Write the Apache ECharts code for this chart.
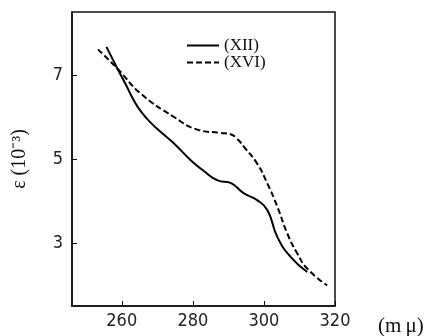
<!DOCTYPE html>
<html><head><meta charset="utf-8">
<script src="https://cdn.jsdelivr.net/npm/echarts@6/dist/echarts.min.js"></script>
<style>html,body{margin:0;padding:0;background:#fff}#c{width:437px;height:336px}</style>
</head><body><div id="c"></div>
<script>
var seriesNames = ['(XII)', '(XVI)'];
var xiiX = [255.7, 258.8, 261.1, 263.5, 265.6, 268.2, 271.0, 274.7, 279.4, 283.0, 287.0, 290.6, 294.4, 298.1, 301.0, 303.8, 307.5, 312.2];
var xiiY = [7.67, 7.15, 6.78, 6.38, 6.11, 5.86, 5.64, 5.37, 4.97, 4.72, 4.49, 4.43, 4.18, 4.02, 3.78, 3.14, 2.67, 2.31];
var xviX = [253.3, 258.8, 265.3, 274.7, 281.3, 287.8, 290.6, 292.5, 294.4, 298.1, 301.0, 303.8, 306.6, 309.4, 312.2, 317.8];
var xviY = [7.61, 7.15, 6.56, 6.00, 5.70, 5.62, 5.59, 5.48, 5.29, 4.89, 4.41, 3.86, 3.22, 2.75, 2.39, 1.99];
var xTicks = [260, 280, 300, 320];
var yTicks = [3, 5, 7];

function pairs(xs, ys){ return xs.map(function(x,i){ return [x, ys[i]]; }); }

var chart = echarts.init(document.getElementById('c'), null, {renderer:'canvas'});
var tickFont = {color:'#222', fontFamily:'DejaVu Sans Condensed, Liberation Sans Narrow, Liberation Sans', fontSize:18};
chart.setOption({
  animation:false,
  grid:{left:72, top:12, right:102, bottom:30, show:true, borderColor:'#111', borderWidth:1.5},
  legend:{
    orient:'vertical', left:181, top:32, itemGap:0, itemWidth:32, itemHeight:10,
    textStyle:{fontFamily:'Liberation Serif, serif', fontSize:17, color:'#111'},
    itemStyle:{opacity:0},
    data:seriesNames
  },
  xAxis:{
    type:'value', min:246, max:320,
    axisLine:{show:true, lineStyle:{color:'#111', width:1.5}},
    axisTick:{show:true, inside:true, length:5, customValues:xTicks, lineStyle:{color:'#111'}},
    axisLabel:{show:true, customValues:xTicks, margin:6, ...tickFont},
    splitLine:{show:false}
  },
  yAxis:{
    type:'value', min:1.5, max:8.5,
    name:'ε (10⁻³)', nameLocation:'middle', nameRotate:90, nameGap:42,
    nameTextStyle:{fontFamily:'Liberation Serif, serif', fontSize:20, color:'#111'},
    axisLine:{show:true, lineStyle:{color:'#111', width:1.5}},
    axisTick:{show:true, inside:true, length:5, customValues:yTicks, lineStyle:{color:'#111'}},
    axisLabel:{show:true, customValues:yTicks, margin:9, ...tickFont},
    splitLine:{show:false}
  },
  graphic:[{type:'text', left:378, top:316, style:{text:'(m\u2009μ)', fontFamily:'Liberation Serif, serif', fontSize:21, fill:'#111'}}],
  series:[
    {name:seriesNames[0], type:'line', data:pairs(xiiX, xiiY), smooth:0.5, symbol:'none',
     lineStyle:{color:'#000', width:2, type:'solid'}, itemStyle:{color:'#000'}},
    {name:seriesNames[1], type:'line', data:pairs(xviX, xviY), smooth:0.5, symbol:'none',
     lineStyle:{color:'#000', width:2, type:[6,3]}, itemStyle:{color:'#000'}}
  ]
});
</script></body></html>
